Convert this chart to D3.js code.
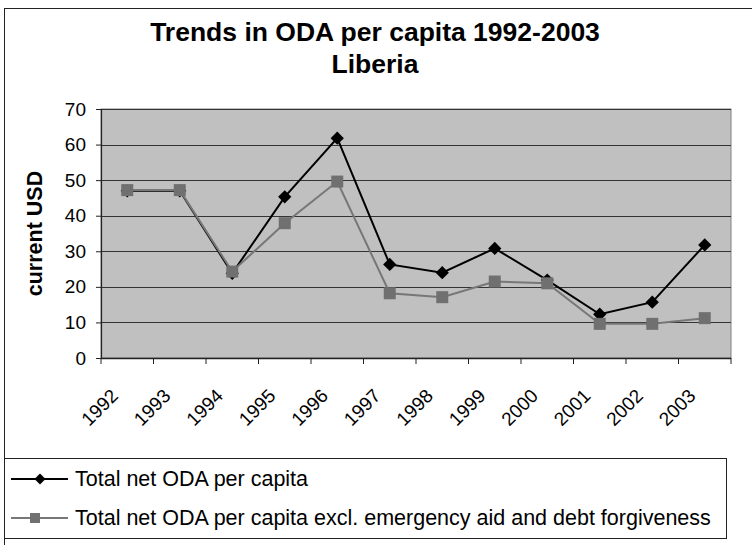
<!DOCTYPE html>
<html>
<head>
<meta charset="utf-8">
<script src="https://cdn.jsdelivr.net/npm/d3@7"></script>
<style>
  html, body { margin: 0; padding: 0; background: #fff; }
  svg { display: block; font-family: "Liberation Sans", Arial, sans-serif; }
</style>
</head>
<body>
<svg id="chart" width="752" height="545"></svg>
<script>
const years = ["1992","1993","1994","1995","1996","1997","1998","1999","2000","2001","2002","2003"];
const totalODA = [47.0, 47.0, 23.8, 45.3, 61.8, 26.3, 24.0, 30.8, 21.9, 12.3, 15.7, 31.8];
const exclODA  = [47.2, 47.2, 24.3, 37.9, 49.6, 18.2, 17.1, 21.5, 21.0, 9.6, 9.6, 11.2];
const yTicks = [0, 10, 20, 30, 40, 50, 60, 70];
const titleLines = ["Trends in ODA per capita 1992-2003", "Liberia"];
const yTitle = "current USD";
const seriesNames = ["Total net ODA per capita", "Total net ODA per capita excl. emergency aid and debt forgiveness"];

const svg = d3.select("#chart");
const plot = { left: 101, right: 731, top: 109, bottom: 358 };

// outer chart border (extends beyond the viewport on right/bottom)
svg.append("rect").attr("x", 4.5).attr("y", 8.5).attr("width", 800).attr("height", 600)
  .attr("fill", "#fff").attr("stroke", "#222").attr("stroke-width", 1);

// title
svg.selectAll("text.title").data(titleLines).enter().append("text")
  .attr("class", "title")
  .attr("x", 375).attr("y", (d, i) => 41 + i * 32)
  .attr("text-anchor", "middle")
  .attr("font-weight", "bold").attr("font-size", 26.5)
  .attr("fill", "#000")
  .text(d => d);

const x = d3.scaleBand().domain(years).range([plot.left, plot.right]).padding(0);
const y = d3.scaleLinear().domain([0, 70]).range([plot.bottom, plot.top]);
const cx = d => x(d) + x.bandwidth() / 2;

// plot background
svg.append("rect").attr("x", plot.left).attr("y", plot.top)
  .attr("width", plot.right - plot.left).attr("height", plot.bottom - plot.top)
  .attr("fill", "#c0c0c0").attr("stroke", "#808080").attr("stroke-width", 1);

// gridlines
svg.append("g").selectAll("line").data(yTicks.filter(t => t > 0)).enter().append("line")
  .attr("x1", plot.left).attr("x2", plot.right)
  .attr("y1", d => Math.round(y(d)) + 0.5).attr("y2", d => Math.round(y(d)) + 0.5)
  .attr("stroke", "#333").attr("stroke-width", 1);

// y axis
const yAxis = d3.axisLeft(y).tickValues(yTicks).tickSize(5).tickPadding(10).tickFormat(d3.format("d"));
const gy = svg.append("g").attr("transform", `translate(${plot.left},0)`).call(yAxis);
gy.select(".domain").attr("stroke", "#222").attr("stroke-width", 1.2);
gy.selectAll(".tick line").attr("stroke", "#222");
gy.selectAll(".tick text").attr("font-size", 19).attr("fill", "#000")
  .attr("font-family", "Liberation Sans, Arial, sans-serif");

// x axis with ticks at category boundaries
const gx = svg.append("g").attr("transform", `translate(0,${plot.bottom})`);
gx.append("line").attr("x1", plot.left).attr("x2", plot.right).attr("y1", 0.5).attr("y2", 0.5)
  .attr("stroke", "#222").attr("stroke-width", 1.5);
const boundaries = years.map(d => x(d)).concat([x(years[years.length - 1]) + x.bandwidth()]);
gx.selectAll("line.tk").data(boundaries).enter().append("line").attr("class", "tk")
  .attr("x1", d => d).attr("x2", d => d).attr("y1", 0).attr("y2", 6)
  .attr("stroke", "#222").attr("stroke-width", 1);
gx.selectAll("text").data(years).enter().append("text")
  .attr("transform", d => `translate(${cx(d) - 8},39) rotate(-45)`)
  .attr("text-anchor", "end")
  .attr("font-size", 19).attr("fill", "#000")
  .text(d => d);

// y-axis title
svg.append("text")
  .attr("transform", `translate(42,${(plot.top + plot.bottom) / 2 + 0}) rotate(-90)`)
  .attr("text-anchor", "middle")
  .attr("font-weight", "bold").attr("font-size", 21.5)
  .text(yTitle);

const line = d3.line().x((d, i) => cx(years[i])).y(d => y(d));

svg.append("path").datum(totalODA).attr("d", line)
  .attr("fill", "none").attr("stroke", "#000").attr("stroke-width", 2);
svg.append("g").selectAll("path").data(totalODA).enter().append("path")
  .attr("d", d3.symbol().type(d3.symbolSquare).size(88))
  .attr("transform", (d, i) => `translate(${cx(years[i])},${y(d)}) rotate(45)`)
  .attr("fill", "#000");

svg.append("path").datum(exclODA).attr("d", line)
  .attr("fill", "none").attr("stroke", "#777").attr("stroke-width", 2);
svg.append("g").selectAll("rect").data(exclODA).enter().append("rect")
  .attr("x", (d, i) => cx(years[i]) - 6)
  .attr("y", d => y(d) - 6)
  .attr("width", 12).attr("height", 12)
  .attr("fill", "#707070");

// legend
const lg = svg.append("g");
lg.append("rect").attr("x", 4.5).attr("y", 458.5).attr("width", 722).attr("height", 80)
  .attr("fill", "#fff").attr("stroke", "#222").attr("stroke-width", 1);
const rowsY = [479, 518];
lg.append("line").attr("x1", 11).attr("x2", 68).attr("y1", rowsY[0]).attr("y2", rowsY[0])
  .attr("stroke", "#000").attr("stroke-width", 2);
lg.append("path").attr("d", d3.symbol().type(d3.symbolSquare).size(60))
  .attr("transform", `translate(40,${rowsY[0]}) rotate(45)`).attr("fill", "#000");
lg.append("line").attr("x1", 11).attr("x2", 68).attr("y1", rowsY[1]).attr("y2", rowsY[1])
  .attr("stroke", "#777").attr("stroke-width", 2);
lg.append("rect").attr("x", 30).attr("y", rowsY[1] - 5).attr("width", 10).attr("height", 10)
  .attr("fill", "#707070");
lg.selectAll("text").data(seriesNames).enter().append("text")
  .attr("x", 75).attr("y", (d, i) => rowsY[i] + 7)
  .attr("font-size", 21.5).attr("fill", "#000")
  .text(d => d);
</script>
</body>
</html>
